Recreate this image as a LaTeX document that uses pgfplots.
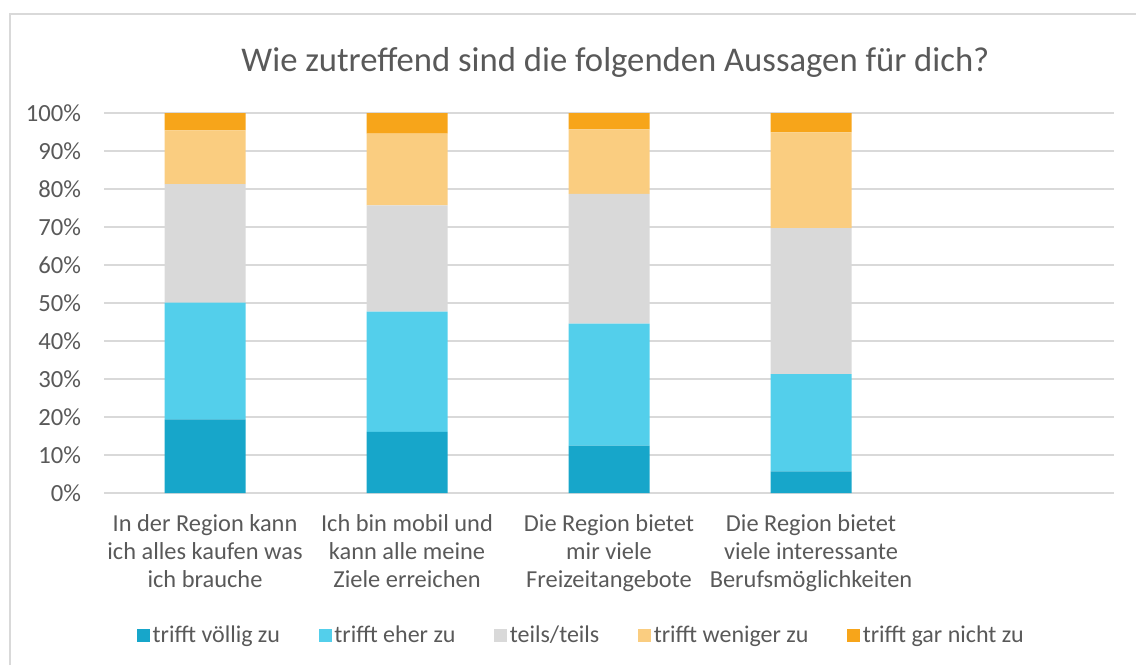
\documentclass[border=0pt]{standalone}
\usepackage{pgfplots}
\pgfplotsset{compat=1.18}
\usepackage{fontspec}
\setmainfont{Carlito}
\definecolor{txt}{HTML}{595959}
\definecolor{gridc}{HTML}{D9D9D9}
\definecolor{c1}{HTML}{17A6CA}
\definecolor{c2}{HTML}{53CFEB}
\definecolor{c3}{HTML}{D9D9D9}
\definecolor{c4}{HTML}{FACD80}
\definecolor{c5}{HTML}{F7A51A}
\begin{document}
\begin{tikzpicture}
\path[use as bounding box] (0,0) rectangle (852pt,498.75pt);
\draw[gridc, line width=1pt] (7.5pt,0) -- (7.5pt,488.25pt) -- (852pt,488.25pt);
\begin{axis}[
  at={(78pt,129pt)}, anchor=south west,
  scale only axis, width=757.5pt, height=285pt,
  ybar stacked, bar width=60.75pt,
  xmin=-0.5, xmax=4.5, ymin=0, ymax=100,
  axis line style={draw=none},
  major tick length=0pt,
  ymajorgrids, major grid style={gridc, line width=1pt},
  ytick={0,10,...,100},
  yticklabels={0\%,10\%,20\%,30\%,40\%,50\%,60\%,70\%,80\%,90\%,100\%},
  yticklabel style={font=\fontsize{18.5pt}{22pt}\selectfont, text=txt, anchor=east, inner sep=0pt, xshift=-17pt},
  xtick={0,1,2,3},
  xticklabels={{In der Region kann\\ich alles kaufen was\\ich brauche},
               {Ich bin mobil und\\kann alle meine\\Ziele erreichen},
               {Die Region bietet\\mir viele\\Freizeitangebote},
               {Die Region bietet\\viele interessante\\Berufsmöglichkeiten}},
  xticklabel style={font=\fontsize{18.3pt}{21pt}\selectfont, text=txt, align=center, anchor=north, inner sep=0pt, yshift=-16pt},
  title={Wie zutreffend sind die folgenden Aussagen für dich?},
  title style={font=\fontsize{26pt}{30pt}\selectfont, text=txt, at={(0.5064,1.113)}, anchor=center, inner sep=0pt, yshift=0pt},
  legend columns=5,
  legend style={at={(0.473,-0.374)}, anchor=center, draw=none, fill=none,
    font=\fontsize{18pt}{21pt}\selectfont, text=txt,
    /tikz/every even column/.append style={column sep=27pt},
    inner sep=0pt},
  legend image code/.code={\fill[#1] (0pt,-4.9pt) rectangle (9.8pt,4.9pt);},
  legend cell align=left,
]
\addplot[fill=c1, draw=none] coordinates {(0,19.4) (1,16.1) (2,12.5) (3,5.7)};
\addplot[fill=c2, draw=none] coordinates {(0,30.7) (1,31.6) (2,32.1) (3,25.6)};
\addplot[fill=c3, draw=none] coordinates {(0,31.2) (1,28.0) (2,34.1) (3,38.4)};
\addplot[fill=c4, draw=none] coordinates {(0,14.1) (1,18.9) (2,17.0) (3,25.2)};
\addplot[fill=c5, draw=none] coordinates {(0,4.6) (1,5.4) (2,4.3) (3,5.1)};
\legend{trifft völlig zu, trifft eher zu, teils/teils, trifft weniger zu, trifft gar nicht zu}
\end{axis}
\end{tikzpicture}
\end{document}
